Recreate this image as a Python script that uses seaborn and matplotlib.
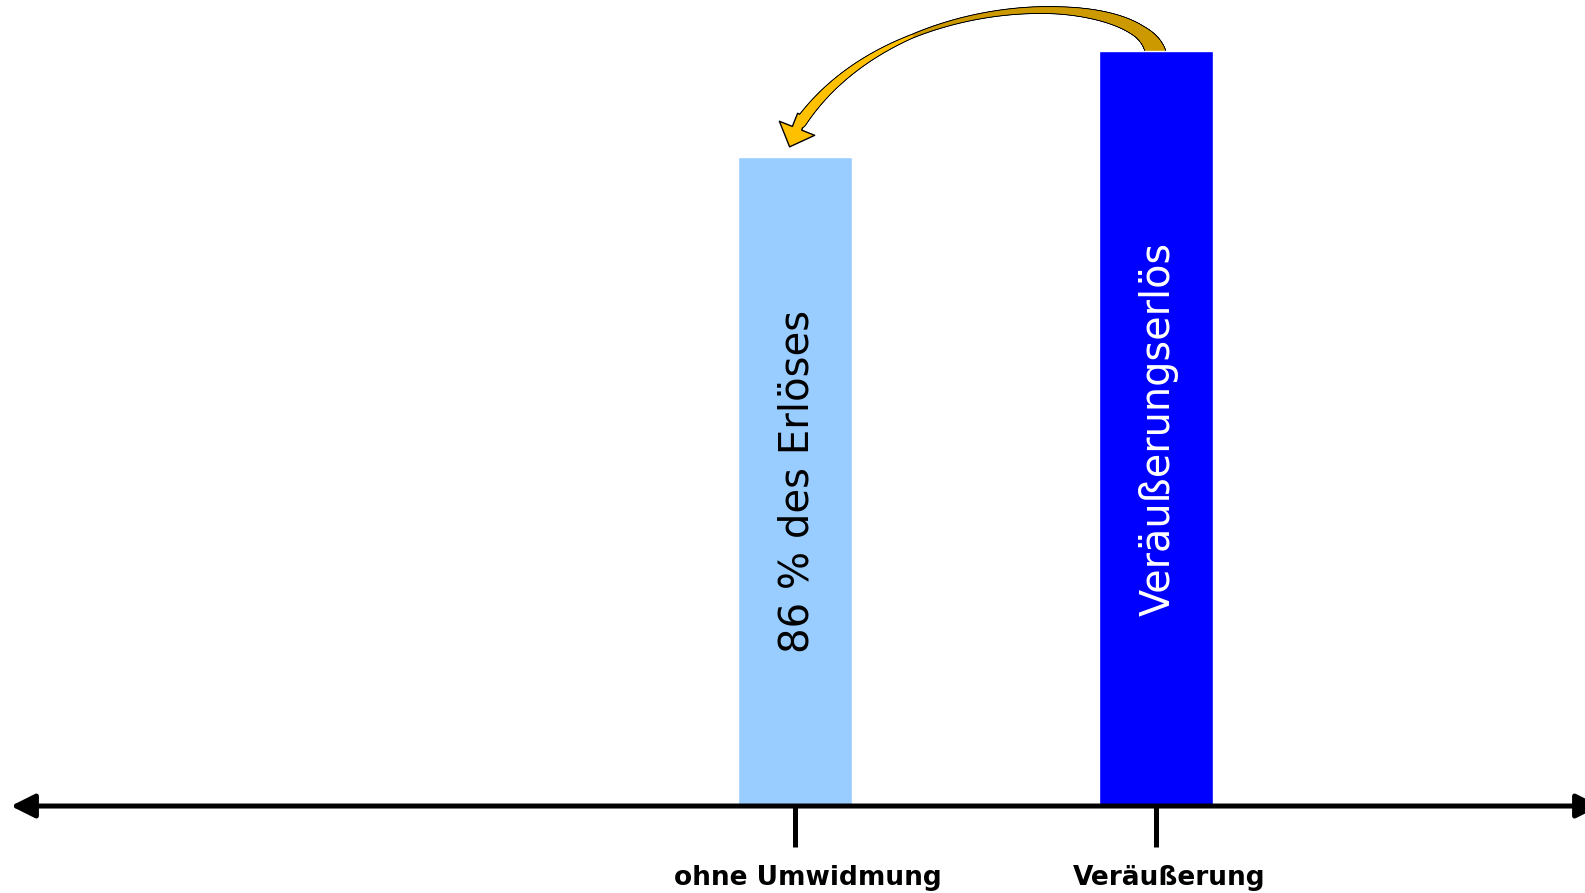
import matplotlib
matplotlib.use('Agg')
import numpy as np
import matplotlib.pyplot as plt
import matplotlib.transforms as mtransforms
from matplotlib.collections import LineCollection
import seaborn as sns

# Data
categories = ['ohne Umwidmung', 'Veräußerung']
values = [86, 100]
bar_texts = ['86 % des Erlöses', 'Veräußerungserlös']
bar_colors = ['#99CCFF', '#0000FF']
text_colors = ['black', 'white']

sns.set_style('white')
plt.rcParams['font.family'] = ['DejaVu Sans']

fig = plt.figure(figsize=(15.85, 8.93), dpi=100)
ax = fig.add_axes([0, 0, 1, 1])

sns.barplot(x=categories, y=values, hue=categories, palette=bar_colors,
            width=0.316, saturation=1, legend=False, ax=ax, zorder=2)

ax.set_xlim(-2.202, 2.188)
ax.set_ylim(-11.52, 106.75)

# axis look
for s in ['top', 'right', 'left']:
    ax.spines[s].set_visible(False)
ax.spines['bottom'].set_position(('data', 0))
ax.spines['bottom'].set_visible(False)
ax.set_yticks([])
ax.set_xlabel('')
ax.set_ylabel('')
ax.tick_params(axis='x', bottom=True, length=29.5, width=3.6, pad=13, labelsize=19,
               direction='out', color='black', labelcolor='black')
shift = mtransforms.ScaledTranslation(0.13, 0, fig.dpi_scale_trans)
for lbl in ax.get_xticklabels():
    lbl.set_fontweight('bold')
    lbl.set_transform(lbl.get_transform() + shift)

# horizontal axis with arrow heads on both ends
ax.annotate('', xy=(-2.172, 0), xytext=(2.23, 0),
            arrowprops=dict(arrowstyle='<|-|>,head_length=0.4,head_width=0.2',
                            mutation_scale=36, lw=3.6, color='black',
                            shrinkA=0, shrinkB=0),
            annotation_clip=False, zorder=3)

# texts inside the bars
font_sizes = [29, 28.6]
for i in range(len(values)):
    ax.text(i + 0.007, values[i] / 2, bar_texts[i], rotation=90, ha='center', va='center',
            fontsize=font_sizes[i], color=text_colors[i], zorder=4)

# curved arrow from the big bar to the smaller one (cubic bezier body + head)
p0 = np.array([1.0, values[1] - 1])
p1 = np.array([1.0, values[1] + 8])
p2 = np.array([0.29, values[1] + 9.5])
p3 = np.array([0.015, values[0] + 4.5])
t = np.linspace(0, 1, 300)[:, None]
curve = (1 - t) ** 3 * p0 + 3 * (1 - t) ** 2 * t * p1 + 3 * (1 - t) * t ** 2 * p2 + t ** 3 * p3
segs = np.stack([curve[:-1], curve[1:]], axis=1)
tm = (t[:-1, 0] + t[1:, 0]) / 2
width_px = np.interp(tm, [0, 0.15, 0.4, 0.72, 1], [21, 12, 6, 2.5, 10])
lw = width_px * 0.72
seg_colors = np.where(tm < 0.72, '#CC9900', '#FFC000')

outline = LineCollection(segs, linewidths=lw + 1.5, colors='black', capstyle='round', zorder=1)
ax.add_collection(outline)
ax.annotate('', xy=(-0.015, values[0] + 1.3), xytext=(0.02, values[0] + 5.5),
            arrowprops=dict(arrowstyle='simple,head_length=20,head_width=38,tail_width=10',
                            mutation_scale=0.72, connectionstyle='arc3,rad=0',
                            fc='#FFC000', ec='black', lw=1, shrinkA=0, shrinkB=0),
            zorder=1.1)
body = LineCollection(segs, linewidths=lw, colors=list(seg_colors), capstyle='round', zorder=1.2)
ax.add_collection(body)

plt.savefig('out.png', dpi=100, facecolor='white')
